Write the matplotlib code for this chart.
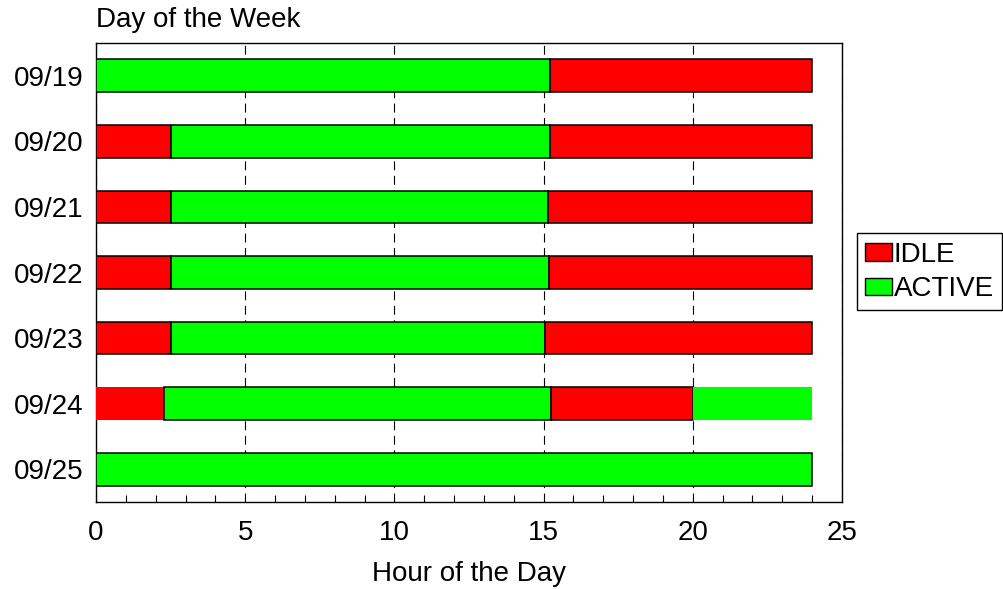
import matplotlib.pyplot as plt
from matplotlib.patches import Patch

plt.rcParams['font.family'] = ['Liberation Sans', 'DejaVu Sans']

days = ['09/19', '09/20', '09/21', '09/22', '09/23', '09/24', '09/25']
# each day: list of (state, start hour, end hour)
segments = [
    [('ACTIVE', 0, 15.2), ('IDLE', 15.2, 24)],
    [('IDLE', 0, 2.5), ('ACTIVE', 2.5, 15.2), ('IDLE', 15.2, 24)],
    [('IDLE', 0, 2.5), ('ACTIVE', 2.5, 15.15), ('IDLE', 15.15, 24)],
    [('IDLE', 0, 2.5), ('ACTIVE', 2.5, 15.18), ('IDLE', 15.18, 24)],
    [('IDLE', 0, 2.5), ('ACTIVE', 2.5, 15.05), ('IDLE', 15.05, 24)],
    [('IDLE', 0, 2.27), ('ACTIVE', 2.27, 15.25), ('IDLE', 15.25, 20), ('ACTIVE', 20, 24)],
    [('ACTIVE', 0, 24)],
]
# segments drawn without an outline in the original
no_edge = {(5, 0), (5, 3)}

colors = {'IDLE': '#ff0000', 'ACTIVE': '#00ff00'}

fig = plt.figure(figsize=(10.04, 5.89), dpi=100)
ax = fig.add_axes([96 / 1004, 87 / 589, 746 / 1004, 459 / 589])

for i, day in enumerate(days):
    for j, (state, start, end) in enumerate(segments[i]):
        if (i, j) in no_edge:
            ec, lw = colors[state], 0
        else:
            ec, lw = 'black', 1.1
        ax.barh(i, end - start, left=start, height=0.5, color=colors[state],
                edgecolor=ec, linewidth=lw, zorder=3)

ax.set_xlim(0, 25)
ax.set_ylim(6.5, -0.5)
ax.set_yticks(range(len(days)))
ax.set_yticklabels(days)
ax.set_xticks([0, 5, 10, 15, 20, 25])
ax.set_xticks(range(26), minor=True)
ax.tick_params(axis='y', length=0, labelsize=20, pad=9)
ax.tick_params(axis='x', which='major', length=0, labelsize=20, pad=13)
ax.tick_params(axis='x', which='minor', direction='in', length=5, width=0.8)
ax.grid(axis='x', which='major', color='black', linestyle=(0, (8, 5)), linewidth=0.8, zorder=0)
ax.set_axisbelow(True)
for s in ax.spines.values():
    s.set_linewidth(1.0)

ax.set_xlabel('Hour of the Day', fontsize=20, labelpad=11)
fig.text(96 / 1004, 1 - 20 / 589, 'Day of the Week', fontsize=20, ha='left', va='center')

handles = [Patch(facecolor=colors['IDLE'], edgecolor='black', linewidth=1.0, label='IDLE'),
           Patch(facecolor=colors['ACTIVE'], edgecolor='black', linewidth=1.0, label='ACTIVE')]
fig.legend(handles=handles, loc='center left', bbox_to_anchor=(857 / 1004, 1 - 272 / 589),
           fontsize=20, frameon=True, fancybox=False, edgecolor='black', framealpha=1,
           handlelength=0.95, handleheight=0.6, handletextpad=0.08, borderpad=0.3,
           labelspacing=0.3, borderaxespad=0)

plt.savefig('out.png', dpi=100)
